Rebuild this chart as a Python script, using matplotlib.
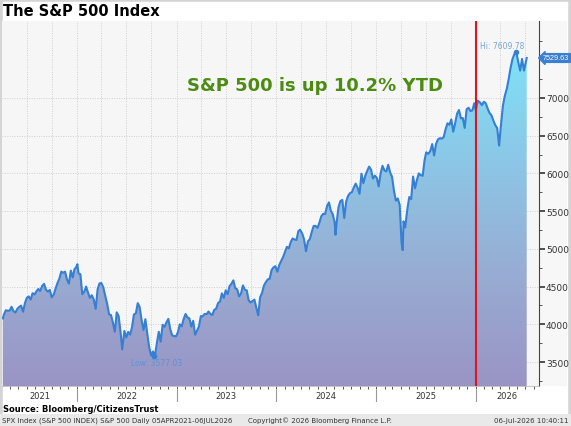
import numpy as np
import pandas as pd
import matplotlib
matplotlib.use("Agg")
import matplotlib.pyplot as plt
import matplotlib.dates as mdates
from matplotlib.colors import LinearSegmentedColormap

# weekly closes of the S&P 500 (plus the marked hi / low days)
week_dates = [
    "2021-04-05", "2021-04-09", "2021-04-16", "2021-04-23", "2021-04-30", "2021-05-07", "2021-05-14", "2021-05-21",
    "2021-05-28", "2021-06-04", "2021-06-11", "2021-06-18", "2021-06-25", "2021-07-02", "2021-07-09", "2021-07-16",
    "2021-07-23", "2021-07-30", "2021-08-06", "2021-08-13", "2021-08-20", "2021-08-27", "2021-09-03", "2021-09-10",
    "2021-09-17", "2021-09-24", "2021-10-01", "2021-10-08", "2021-10-15", "2021-10-22", "2021-10-29", "2021-11-05",
    "2021-11-12", "2021-11-19", "2021-11-26", "2021-12-03", "2021-12-10", "2021-12-17", "2021-12-23", "2021-12-31",
    "2022-01-03", "2022-01-07", "2022-01-14", "2022-01-21", "2022-01-28", "2022-02-04", "2022-02-11", "2022-02-18",
    "2022-02-25", "2022-03-04", "2022-03-11", "2022-03-18", "2022-03-25", "2022-04-01", "2022-04-08", "2022-04-14",
    "2022-04-22", "2022-04-29", "2022-05-06", "2022-05-13", "2022-05-20", "2022-05-27", "2022-06-03", "2022-06-10",
    "2022-06-16", "2022-06-24", "2022-07-01", "2022-07-08", "2022-07-15", "2022-07-22", "2022-07-29", "2022-08-05",
    "2022-08-12", "2022-08-19", "2022-08-26", "2022-09-02", "2022-09-09", "2022-09-16", "2022-09-23", "2022-09-30",
    "2022-10-07", "2022-10-12", "2022-10-14", "2022-10-21", "2022-10-28", "2022-11-04", "2022-11-11", "2022-11-18",
    "2022-11-25", "2022-12-02", "2022-12-09", "2022-12-16", "2022-12-23", "2022-12-30",
    "2023-01-06", "2023-01-13", "2023-01-20", "2023-01-27", "2023-02-03", "2023-02-10", "2023-02-17", "2023-02-24",
    "2023-03-03", "2023-03-10", "2023-03-17", "2023-03-24", "2023-03-31", "2023-04-06", "2023-04-14", "2023-04-21",
    "2023-04-28", "2023-05-05", "2023-05-12", "2023-05-19", "2023-05-26", "2023-06-02", "2023-06-09", "2023-06-16",
    "2023-06-23", "2023-06-30", "2023-07-07", "2023-07-14", "2023-07-21", "2023-07-28", "2023-08-04", "2023-08-11",
    "2023-08-18", "2023-08-25", "2023-09-01", "2023-09-08", "2023-09-15", "2023-09-22", "2023-09-29", "2023-10-06",
    "2023-10-13", "2023-10-20", "2023-10-27", "2023-11-03", "2023-11-10", "2023-11-17", "2023-11-24", "2023-12-01",
    "2023-12-08", "2023-12-15", "2023-12-22", "2023-12-29",
    "2024-01-05", "2024-01-12", "2024-01-19", "2024-01-26", "2024-02-02", "2024-02-09", "2024-02-16", "2024-02-23",
    "2024-03-01", "2024-03-08", "2024-03-15", "2024-03-22", "2024-03-28", "2024-04-05", "2024-04-12", "2024-04-19",
    "2024-04-26", "2024-05-03", "2024-05-10", "2024-05-17", "2024-05-24", "2024-05-31", "2024-06-07", "2024-06-14",
    "2024-06-21", "2024-06-28", "2024-07-05", "2024-07-12", "2024-07-19", "2024-07-26", "2024-08-02", "2024-08-05",
    "2024-08-09", "2024-08-16", "2024-08-23", "2024-08-30", "2024-09-06", "2024-09-13", "2024-09-20", "2024-09-27",
    "2024-10-04", "2024-10-11", "2024-10-18", "2024-10-25", "2024-11-01", "2024-11-08", "2024-11-15", "2024-11-22",
    "2024-11-29", "2024-12-06", "2024-12-13", "2024-12-20", "2024-12-27",
    "2025-01-03", "2025-01-10", "2025-01-17", "2025-01-24", "2025-01-31", "2025-02-07", "2025-02-14", "2025-02-21",
    "2025-02-28", "2025-03-07", "2025-03-14", "2025-03-21", "2025-03-28", "2025-04-04", "2025-04-08", "2025-04-11",
    "2025-04-17", "2025-04-25", "2025-05-02", "2025-05-09", "2025-05-16", "2025-05-23", "2025-05-30", "2025-06-06",
    "2025-06-13", "2025-06-20", "2025-06-27", "2025-07-03", "2025-07-11", "2025-07-18", "2025-07-25", "2025-08-01",
    "2025-08-08", "2025-08-15", "2025-08-22", "2025-08-29", "2025-09-05", "2025-09-12", "2025-09-19", "2025-09-26",
    "2025-10-03", "2025-10-10", "2025-10-17", "2025-10-24", "2025-10-31", "2025-11-07", "2025-11-14", "2025-11-21",
    "2025-11-28", "2025-12-05", "2025-12-12", "2025-12-19", "2025-12-26", "2025-12-31",
    "2026-01-02", "2026-01-08", "2026-01-16", "2026-01-23", "2026-01-30", "2026-02-06", "2026-02-13", "2026-02-20",
    "2026-02-27", "2026-03-06", "2026-03-13", "2026-03-20", "2026-03-27", "2026-04-02", "2026-04-10", "2026-04-17",
    "2026-04-24", "2026-05-01", "2026-05-08", "2026-05-15", "2026-05-22", "2026-05-29", "2026-06-05", "2026-06-12",
    "2026-06-19", "2026-06-26", "2026-07-06",
]
spx_close = [
    4077.9, 4128.8, 4185.5, 4180.2, 4181.2, 4232.6, 4173.9, 4155.9,
    4204.1, 4229.9, 4247.4, 4166.5, 4280.7, 4352.3, 4369.6, 4327.2,
    4411.8, 4395.3, 4436.5, 4468.0, 4441.7, 4509.4, 4535.4, 4458.6,
    4433.0, 4455.5, 4357.0, 4391.3, 4471.4, 4544.9, 4605.4, 4697.5,
    4682.9, 4698.0, 4594.6, 4538.4, 4712.0, 4620.6, 4725.8, 4766.2,
    4796.6, 4677.0, 4662.9, 4397.9, 4431.9, 4500.5, 4418.6, 4348.9,
    4384.7, 4328.9, 4204.3, 4463.1, 4543.1, 4545.9, 4488.3, 4392.6,
    4271.8, 4131.9, 4123.3, 4023.9, 3901.4, 4158.2, 4108.5, 3900.9,
    3666.8, 3911.7, 3825.3, 3899.4, 3863.2, 3961.6, 4130.3, 4145.2,
    4280.2, 4228.5, 4057.7, 3924.3, 4067.4, 3873.3, 3693.2, 3585.6,
    3639.7, 3577.03, 3583.1, 3752.8, 3901.1, 3770.6, 3992.9, 3965.3,
    4026.1, 4071.7, 3934.4, 3852.4, 3844.8, 3839.5,
    3895.1, 3999.1, 3972.6, 4070.6, 4136.5, 4090.5, 4079.1, 3970.0,
    4045.6, 3861.6, 3916.6, 3971.0, 4109.3, 4105.0, 4137.6, 4133.5,
    4169.5, 4136.3, 4124.1, 4192.0, 4205.5, 4282.4, 4298.9, 4409.6,
    4348.3, 4450.4, 4399.0, 4505.4, 4536.3, 4582.2, 4478.0, 4464.1,
    4369.7, 4405.7, 4515.8, 4457.5, 4450.3, 4320.1, 4288.1, 4308.5,
    4327.8, 4224.2, 4117.4, 4358.3, 4415.2, 4514.0, 4559.3, 4594.6,
    4604.4, 4719.2, 4754.6, 4769.8,
    4697.2, 4783.8, 4839.8, 4891.0, 4958.6, 5026.6, 5005.6, 5088.8,
    5137.1, 5123.7, 5117.1, 5234.2, 5254.4, 5204.3, 5123.4, 4967.2,
    5100.0, 5127.8, 5222.7, 5303.3, 5304.7, 5277.5, 5347.0, 5431.6,
    5464.6, 5460.5, 5567.2, 5615.4, 5505.0, 5459.1, 5346.6, 5186.3,
    5344.2, 5554.3, 5634.6, 5648.4, 5408.4, 5626.0, 5702.6, 5738.2,
    5751.1, 5815.0, 5864.7, 5808.1, 5728.8, 5995.5, 5870.6, 5969.3,
    6032.4, 6090.3, 6051.1, 5930.9, 5970.8,
    5942.5, 5827.0, 5996.7, 6101.2, 6040.5, 6026.0, 6114.6, 6013.1,
    5954.5, 5770.2, 5638.9, 5667.6, 5580.9, 5074.1, 4982.8, 5363.4,
    5282.7, 5525.2, 5686.7, 5659.9, 5958.4, 5802.8, 5911.7, 6000.4,
    5977.0, 5967.8, 6173.1, 6279.4, 6259.8, 6296.8, 6388.6, 6238.0,
    6389.5, 6449.8, 6466.9, 6460.3, 6481.5, 6584.3, 6664.4, 6643.7,
    6715.8, 6552.5, 6664.0, 6791.7, 6840.2, 6728.8, 6734.1, 6603.0,
    6849.1, 6870.4, 6827.4, 6834.5, 6929.9, 6845.5,
    6858.0, 6965.0, 6940.0, 6905.0, 6950.0, 6930.0, 6860.0, 6800.0,
    6770.0, 6700.0, 6640.0, 6600.0, 6368.0, 6615.0, 6900.0, 7030.0,
    7120.0, 7250.0, 7400.0, 7517.0, 7583.0, 7609.78, 7477.0, 7362.0,
    7517.0, 7362.0, 7529.63,
]
year_labels = ["2021", "2022", "2023", "2024", "2025", "2026"]
y_ticks = [3500, 4000, 4500, 5000, 5500, 6000, 6500, 7000]
ytd_text = "S&P 500 is up 10.2% YTD"

x = mdates.date2num(pd.to_datetime(week_dates))
y = np.array(spx_close)
x_left = mdates.date2num(pd.Timestamp("2021-04-02"))
x_right = mdates.date2num(pd.Timestamp("2026-08-20"))
y_bot, y_top = 3182, 8020

fig = plt.figure(figsize=(5.71, 4.27), dpi=100)
fig.patch.set_facecolor("white")

# frame / bands
fig.patches.append(plt.Rectangle((0, 0), 1, 1, transform=fig.transFigure, facecolor="white",
                                 edgecolor="#d4d4d4", linewidth=4, zorder=-5))
fig.patches.append(plt.Rectangle((0, 0), 1, 12 / 427, transform=fig.transFigure, facecolor="#e9e9e9",
                                 edgecolor="none", zorder=-4))
fig.patches.append(plt.Rectangle((539 / 571, 40 / 427), 28 / 571, 365 / 427, transform=fig.transFigure,
                                 facecolor="#f7f7f7", edgecolor="none", zorder=-4))

ax = fig.add_axes([2 / 571, 40 / 427, 537 / 571, 365 / 427])
ax.set_facecolor("#f6f6f6")

# gradient fill under the line
cmap = LinearSegmentedColormap.from_list("spx", ["#9a94c4", "#98acd2", "#8cc6e6", "#7ee2f6"])
grad = np.linspace(0, 1, 256).reshape(-1, 1)
fill = ax.fill_between(x, y, y_bot, color="none", linewidth=0)
im = ax.imshow(grad, extent=[x_left, x_right, y_bot, y_top - 400], origin="lower", aspect="auto",
               cmap=cmap, zorder=1)
im.set_clip_path(fill.get_paths()[0], transform=ax.transData)

ax.plot(x, y, color="#3580d4", linewidth=1.5, zorder=3)

# hi / low markers
i_hi = int(np.argmax(y))
i_lo = int(np.argmin(y))
ax.plot(x[i_hi], y[i_hi], "o", color="#3580d4", markersize=3, zorder=4)
ax.plot(x[i_lo], y[i_lo], "o", color="#3580d4", markersize=3, zorder=4)
ax.text(x[i_hi] + 30, y[i_hi] + 25, "Hi: %.2f" % y[i_hi], ha="right", va="bottom", fontsize=5.5,
        color="#78a6da", zorder=5)
ax.text(x[i_lo] - 85, y[i_lo] - 90, "Low: %.2f" % y[i_lo], ha="left", va="center", fontsize=5.5,
        color="#5d94d6", zorder=5)

# YTD line
ax.axvline(mdates.date2num(pd.Timestamp("2026-01-01")), color="#e0141e", linewidth=1.5, zorder=4)
ax.text(0.583, 0.824, ytd_text, transform=ax.transAxes, ha="center", va="center", fontsize=13,
        fontweight="bold", color="#4c8c12", zorder=5)

ax.set_xlim(x_left, x_right)
ax.set_ylim(y_bot, y_top)

# grid
ax.xaxis.set_major_locator(mdates.MonthLocator(bymonth=[1, 4, 7, 10]))
ax.xaxis.set_minor_locator(mdates.MonthLocator())
ax.grid(True, which="major", color="#cfcfcf", linestyle=(0, (1, 1.5)), linewidth=0.7)
ax.set_axisbelow(True)
ax.xaxis.set_major_formatter(plt.NullFormatter())
ax.tick_params(axis="x", which="both", direction="out", length=2, color="#555555", width=0.7)

ax.yaxis.tick_right()
ax.set_yticks(y_ticks)
ax.set_yticks(np.arange(3250, 8000, 500), minor=True)
ax.tick_params(axis="y", which="major", direction="out", length=4, width=1.2, color="#333333",
               labelsize=6.5, labelcolor="#333333", pad=1)
ax.tick_params(axis="y", which="minor", direction="out", length=2.5, width=0.7, color="#555555")

for side in ["left", "top"]:
    ax.spines[side].set_visible(False)
ax.spines["right"].set_color("#444444")
ax.spines["right"].set_linewidth(0.8)
ax.spines["bottom"].set_color("#bbbbbb")
ax.spines["bottom"].set_linewidth(0.6)

# year labels and separators under the axis
trans = ax.get_xaxis_transform()
bounds = [x_left] + [mdates.date2num(pd.Timestamp("%d-01-01" % yr)) for yr in range(2022, 2027)] + [x_right]
for i, lab in enumerate(year_labels):
    ax.text((bounds[i] + bounds[i + 1]) / 2, -0.026, lab, transform=trans, ha="center", va="center",
            fontsize=6, color="#333333", clip_on=False)
for b in bounds[1:-1]:
    ax.plot([b, b], [-0.012, -0.04], transform=trans, color="#999999", linewidth=0.8, clip_on=False)

# last price box
ax.annotate("%.2f" % y[-1], xy=(1.0, y[-1]), xycoords=("axes fraction", "data"),
            xytext=(3, 0), textcoords="offset points", ha="left", va="center", fontsize=5.2,
            family="Liberation Sans", color="white", annotation_clip=False,
            bbox=dict(boxstyle="larrow,pad=0.12", facecolor="#3b7fd2", edgecolor="#3b7fd2"))

# title and footer
fig.text(3 / 571, 1 - 11 / 427, "The S&P 500 Index", ha="left", va="center", fontsize=10.5,
         fontweight="bold", color="black")
fig.text(3 / 571, 1 - 410 / 427, "Source: Bloomberg/CitizensTrust", ha="left", va="center",
         fontsize=6, fontweight="bold", color="black")
fig.text(2 / 571, 1 - 421 / 427, "SPX Index (S&P 500 INDEX) S&P 500 Daily 05APR2021-06JUL2026",
         ha="left", va="center", fontsize=5, color="#333333")
fig.text(320 / 571, 1 - 421 / 427, "Copyright\u00a9 2026 Bloomberg Finance L.P.", ha="center",
         va="center", fontsize=5, color="#333333")
fig.text(569 / 571, 1 - 421 / 427, "06-Jul-2026 10:40:11", ha="right", va="center", fontsize=5,
         color="#333333")

fig.savefig("out.png", dpi=100)
